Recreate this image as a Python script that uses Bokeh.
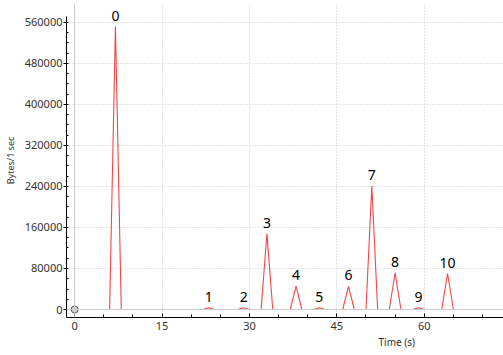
from bokeh.plotting import figure
from bokeh.models import Range1d, SingleIntervalTicker, Span, Title, ColumnDataSource, BasicTickFormatter
from bokeh.core.properties import value
from bokeh.embed import file_html
from bokeh.resources import INLINE

# Data: bytes per second, sampled once per second
times = list(range(0, 75))
peak_times = [7, 23, 29, 33, 38, 42, 47, 51, 55, 59, 64]
peak_values = [552000, 3500, 3500, 148000, 45500, 3500, 45000, 241000, 71500, 3500, 70000]
peak_labels = ["0", "1", "2", "3", "4", "5", "6", "7", "8", "9", "10"]

values = [0] * len(times)
for t, v in zip(peak_times, peak_values):
    values[times.index(t)] = v

FONT = "Noto Sans"
YMIN, YMAX_AXIS = -15600, 571700

p = figure(width=503, height=355, output_backend="svg", toolbar_location=None,
           x_range=Range1d(-1.4, 73.6), y_range=Range1d(YMIN, 597000),
           min_border_left=66, min_border_right=0, min_border_top=3, min_border_bottom=38)
p.outline_line_color = None
p.background_fill_color = "white"

p.xaxis.ticker = SingleIntervalTicker(interval=15, num_minor_ticks=3)
p.yaxis.ticker = SingleIntervalTicker(interval=80000, num_minor_ticks=4)
p.yaxis.formatter = BasicTickFormatter(use_scientific=False)
p.yaxis.bounds = (YMIN, YMAX_AXIS)

for ax in (p.xaxis[0], p.yaxis[0]):
    ax.axis_line_color = "black"
    ax.major_tick_line_color = "black"
    ax.minor_tick_line_color = "black"
    ax.major_label_text_font = FONT
    ax.major_label_text_font_size = "11px"
    ax.major_label_text_color = "#333333"
    ax.axis_label_text_font = FONT
    ax.axis_label_text_font_style = "normal"
    ax.axis_label_text_color = "#333333"

p.xaxis.major_tick_in = 4
p.xaxis.major_tick_out = 0
p.xaxis.minor_tick_in = 3
p.xaxis.minor_tick_out = 0
p.xaxis.major_label_standoff = 4
p.yaxis.major_tick_in = 0
p.yaxis.major_tick_out = 3
p.yaxis.minor_tick_in = 2
p.yaxis.minor_tick_out = 0
p.yaxis.major_label_standoff = 1
p.yaxis.axis_label = "Bytes/1 sec"
p.yaxis.axis_label_text_font_size = "9px"
p.yaxis.axis_label_standoff = 5

p.grid.grid_line_color = "#c8c8c8"
p.grid.grid_line_dash = "1 2"

p.add_layout(Span(location=0, dimension="height", line_color="#cccccc", line_width=1))
p.add_layout(Span(location=0, dimension="width", line_color="#cccccc", line_width=1))

p.line(times, values, line_color="#f04848", line_width=1.1)
p.scatter([0], [0], size=7, fill_color="#d4d4d4", line_color="#555555", line_width=1)

src = ColumnDataSource(dict(x=peak_times, y=peak_values, t=peak_labels))
p.text(x="x", y="y", text="t", source=src, text_align="center", text_baseline="bottom",
       y_offset=-6, text_font_size="14px", text_color="black", text_font=value(FONT))

p.add_layout(Title(text="Time (s)", align="left", offset=312, standoff=0, text_font=FONT,
                   text_font_size="10px", text_font_style="normal", text_color="#333333"),
             "below")

open("out.html", "w").write(file_html(p, INLINE))
